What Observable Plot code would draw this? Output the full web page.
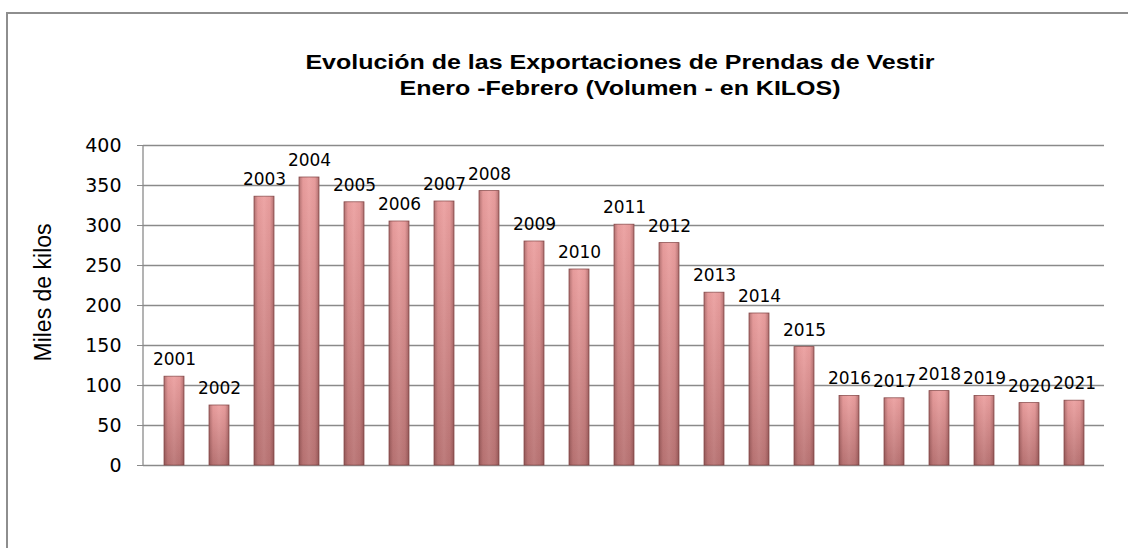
<!DOCTYPE html>
<html>
<head>
<meta charset="utf-8">
<script src="https://cdn.jsdelivr.net/npm/d3@7"></script>
<script src="https://cdn.jsdelivr.net/npm/@observablehq/plot@0.6"></script>
<style>
  html, body { margin: 0; padding: 0; width: 1128px; height: 548px; overflow: hidden; background: #fff; }
  #wrap { position: relative; width: 1128px; height: 548px; }
  #border { position: absolute; left: 6px; top: 12px; width: 1200px; height: 600px;
            border-left: 2px solid #8e8e8e; border-top: 2px solid #8e8e8e; box-sizing: border-box; }
  #title { position: relative; height: 110px; box-sizing: border-box; padding-top: 49px;
           font-family: "Liberation Sans", Arial, sans-serif; font-weight: bold; font-size: 21px;
           line-height: 26px; text-align: center; color: #000; }
  #title div { width: 1128px; padding-left: 112px; box-sizing: border-box;
               transform: scaleX(1.19); transform-origin: 620px 0; }
  #chart { position: relative; }
</style>
</head>
<body>
<div id="wrap">
  <div id="border"></div>
  <div id="title">
    <div>Evolución de las Exportaciones de Prendas de Vestir</div>
    <div>Enero -Febrero (Volumen - en KILOS)</div>
  </div>
  <div id="chart"></div>
</div>
<script>
const years = ["2001","2002","2003","2004","2005","2006","2007","2008","2009","2010","2011",
               "2012","2013","2014","2015","2016","2017","2018","2019","2020","2021"];
const values = [111, 75, 336, 360, 329, 305, 330, 343, 280, 245, 301,
                278, 216, 190, 148, 87, 84, 93, 87, 78, 81];
const yTicks = [0, 50, 100, 150, 200, 250, 300, 350, 400];
const yLabel = "Miles de kilos";

const data = years.map((y, i) => ({year: y, value: values[i]}));

const plot = Plot.plot({
  width: 1128,
  height: 438,
  marginLeft: 143,
  marginRight: 24,
  marginTop: 35,
  marginBottom: 83,
  style: {background: "transparent", overflow: "visible"},
  x: {domain: years, paddingInner: 0.56, paddingOuter: 0.28, axis: null},
  y: {domain: [0, 400], axis: null},
  marks: [
    Plot.gridY(yTicks, {stroke: "#8a8a8a", strokeOpacity: 1, strokeWidth: 1.3}),
    Plot.barY(data, {x: "year", y: "value", fill: "url(#barGrad)", stroke: "#8f5252", strokeWidth: 0.8}),
    Plot.barY(data, {x: "year", y: "value", fill: "url(#edgeGrad)"}),
    Plot.axisY(yTicks, {tickSize: 6, tickPadding: 16, stroke: "#8a8a8a", fontSize: 19,
      fontFamily: "DejaVu Sans", fill: "#000", label: null, tickFormat: d => String(d)}),
    Plot.text(data, {x: "year", y: "value", text: "year", dy: -17, fontSize: 17,
      fontFamily: "DejaVu Sans", fill: "#000"}),
    Plot.text([yLabel], {frameAnchor: "left", textAnchor: "middle", rotate: -90, dx: -100, dy: -13,
      fontSize: 23, fontFamily: "Liberation Sans", fill: "#000"})
  ]
});

// gradients for the bar shading
const svg = d3.select(plot);
const defs = svg.insert("defs", ":first-child");
const g1 = defs.append("linearGradient").attr("id", "barGrad")
  .attr("x1", 0).attr("y1", 0).attr("x2", 0).attr("y2", 1);
g1.append("stop").attr("offset", "0%").attr("stop-color", "#eca0a0");
g1.append("stop").attr("offset", "100%").attr("stop-color", "#b97474");
const g2 = defs.append("linearGradient").attr("id", "edgeGrad")
  .attr("x1", 0).attr("y1", 0).attr("x2", 1).attr("y2", 0);
g2.append("stop").attr("offset", "0%").attr("stop-color", "#5a2a2a").attr("stop-opacity", 0.4);
g2.append("stop").attr("offset", "20%").attr("stop-color", "#5a2a2a").attr("stop-opacity", 0.04);
g2.append("stop").attr("offset", "50%").attr("stop-color", "#ffffff").attr("stop-opacity", 0.06);
g2.append("stop").attr("offset", "80%").attr("stop-color", "#5a2a2a").attr("stop-opacity", 0.04);
g2.append("stop").attr("offset", "100%").attr("stop-color", "#5a2a2a").attr("stop-opacity", 0.4);

// vertical axis line along the left of the frame
const yScale = plot.scale("y");
const x0 = 143;
svg.append("line").attr("x1", x0).attr("x2", x0)
  .attr("y1", yScale.apply(400)).attr("y2", yScale.apply(0))
  .attr("stroke", "#8a8a8a").attr("stroke-width", 1.3);

document.getElementById("chart").appendChild(plot);
</script>
</body>
</html>
